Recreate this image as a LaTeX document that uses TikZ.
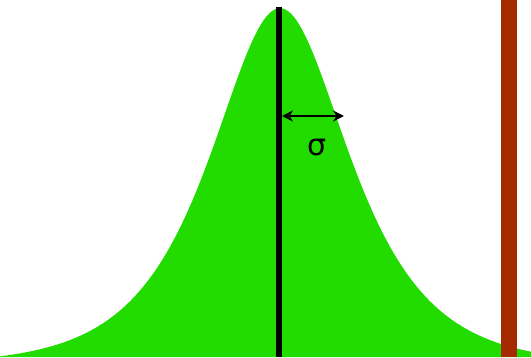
\documentclass[tikz,border=0pt]{standalone}
\usepackage{fontspec}
\setmainfont{DejaVu Sans}
\usetikzlibrary{arrows.meta}
\definecolor{bellgreen}{RGB}{34,220,0}
\definecolor{barred}{RGB}{165,42,0}
\tikzset{
  meanline/.style={line width=6pt},
  sigmaarrow/.style={line width=2.6pt,{Stealth[length=11pt,width=11pt]}-{Stealth[length=11pt,width=11pt]}},
  sigmalabel/.style={font=\fontsize{30}{30}\selectfont}
}
\begin{document}
\begin{tikzpicture}[x=1pt,y=1pt]
\useasboundingbox (0,0) rectangle (531,357);
\fill[white] (0,0) rectangle (531,357);
\fill[bellgreen] (0,0) -- plot[domain=0:531,samples=260] (\x,{max(0,356*(1/cosh((\x-280)/62)-0.02))}) -- (531,0) -- cycle;
\coordinate (top) at (279,350);
\coordinate (bot) at (279,0);
\draw[meanline] (top) -- (bot);
\coordinate (al) at (282,241);
\coordinate (ar) at (344,241);
\draw[sigmaarrow] (al) -- (ar);
\node[sigmalabel] (s) at (317,209) {σ};
\fill[barred] (501,0) rectangle (517,357);
\end{tikzpicture}
\end{document}
